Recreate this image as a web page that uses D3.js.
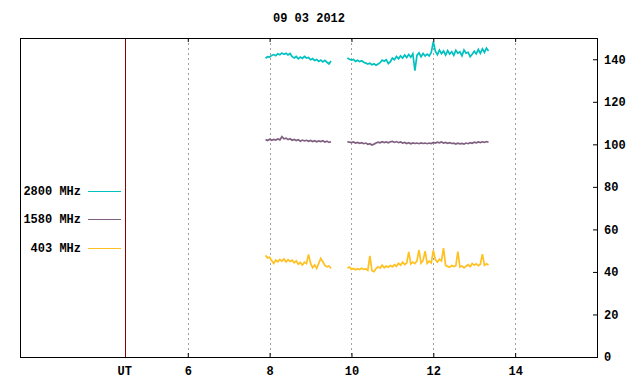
<!DOCTYPE html>
<html>
<head>
<meta charset="utf-8">
<script src="https://cdn.jsdelivr.net/npm/d3@7"></script>
<style>
  body { margin: 0; background: #fff; }
  svg text { font-family: "Liberation Mono", "DejaVu Sans Mono", monospace; font-size: 12px; font-weight: bold; fill: #000; }
</style>
</head>
<body>
<div id="chart"></div>
<script>
// hours (UT) of each sampled segment: start, end, step
const seg1Hours = d3.range(7.9, 9.5001, 0.05);
const seg2Hours = d3.range(9.9, 13.3501, 0.05);

const xTicks = [6, 8, 10, 12, 14];
const yTicks = [0, 20, 40, 60, 80, 100, 120, 140];
const utMark = 4.46;

const labels = ["2800 MHz", "1580 MHz", "403 MHz"];
const colors = ["#00c0c0", "#806080", "#ffc020"];

// 2800 MHz
const f2800a = [140.5, 141.2, 141.0, 141.8, 142.2, 141.7, 142.6, 142.1, 142.9, 142.3, 142.8, 142.0, 142.7, 141.2, 140.6, 141.3, 140.2,
  141.0, 140.4, 141.4, 140.6, 140.9, 139.8, 140.3, 139.4, 139.9, 139.0, 139.6, 138.8, 139.5, 138.6, 137.8, 139.2];
const f2800b = [140.6, 140.0, 139.6, 139.9, 139.0, 139.5, 138.9, 139.3, 138.6, 138.2,
  137.7, 138.1, 137.4, 137.9, 137.2, 137.8, 138.4, 139.6, 139.1, 139.8,
  138.0, 138.9, 140.6, 139.8, 141.3, 140.2, 141.6, 140.5, 142.0, 140.8,
  142.3, 141.0, 142.6, 134.6, 141.8, 143.0, 141.2, 142.7, 141.5, 142.4,
  141.6, 143.2, 148.3, 143.8, 142.2, 144.3, 142.6, 143.9, 142.0, 144.1,
  142.5, 143.6, 141.9, 144.2, 142.8, 143.5, 141.6, 144.4, 142.9, 143.3,
  141.2, 142.4, 143.8, 142.5, 144.6, 142.8, 144.9, 143.2, 145.2, 143.9];

// 1580 MHz
const f1580a = [102.2, 101.8, 102.4, 101.9, 102.3, 102.0, 102.5, 102.1, 103.6, 102.6, 102.9, 102.2, 102.6, 101.9, 102.3, 101.8, 102.2,
  101.5, 102.0, 101.6, 101.9, 101.4, 101.8, 101.3, 101.7, 101.2, 101.6, 101.3, 101.7, 101.1, 101.5, 100.9, 101.2];
const f1580b = [101.3, 101.0, 100.8, 101.1, 100.6, 100.9, 100.5, 100.8, 100.3, 100.6,
  100.0, 100.3, 99.7, 100.1, 100.6, 101.0, 100.7, 101.2, 100.8, 101.1,
  100.7, 101.2, 101.4, 100.9, 101.3, 100.8, 101.1, 100.6, 100.9, 100.4,
  100.8, 100.3, 100.7, 100.4, 100.6, 100.3, 100.7, 100.4, 100.6, 100.3,
  100.6, 100.4, 100.9, 100.6, 101.0, 100.7, 101.1, 100.6, 100.9, 100.5,
  100.8, 100.4, 100.6, 100.1, 100.5, 100.2, 100.4, 100.1, 100.6, 100.3,
  100.8, 100.5, 101.0, 100.7, 101.1, 100.8, 101.2, 100.9, 101.3, 101.0];

// 403 MHz
const f403a = [47.8, 46.6, 46.9, 45.4, 44.0, 45.6, 44.8, 45.9, 45.0, 46.1, 44.7, 45.8, 44.9, 45.5, 44.3, 45.2, 43.6,
  44.4, 43.2, 44.6, 43.9, 48.2, 44.1, 42.0, 43.3, 41.7, 44.0, 46.4, 44.8, 43.1, 42.4, 42.8, 41.7];
const f403b = [41.8, 42.3, 41.2, 41.6, 41.0, 41.5, 41.1, 41.7, 41.2, 41.4,
  40.8, 47.5, 40.6, 40.1, 41.6, 42.4, 41.8, 43.2, 42.0, 42.8,
  42.2, 43.0, 42.4, 43.4, 42.7, 44.1, 43.2, 44.6, 43.5, 44.2,
  49.4, 43.8, 44.6, 43.9, 45.2, 50.3, 44.1, 45.4, 49.8, 44.0,
  45.1, 44.3, 50.1, 45.8, 44.6, 46.0, 45.2, 51.2, 43.1, 42.6,
  42.2, 43.0, 42.5, 42.9, 49.6, 42.3, 42.8, 41.9, 42.7, 43.4,
  42.5, 44.0, 43.2, 43.8, 42.9, 43.6, 48.4, 43.1, 43.8, 43.3];

const series = [
  [f2800a, f2800b],
  [f1580a, f1580b],
  [f403a, f403b]
];

const width = 640, height = 384;
const plot = {left: 20, right: 597, top: 38, bottom: 357};

const svg = d3.select("#chart").append("svg")
    .attr("width", width)
    .attr("height", height);

const x = d3.scaleLinear().domain([1.9, 16]).range([plot.left, plot.right]);
const y = d3.scaleLinear().domain([0, 150]).range([plot.bottom, plot.top]);

// title
svg.append("text")
    .attr("x", 309)
    .attr("y", 22)
    .attr("text-anchor", "middle")
    .text("09 03 2012");

// dotted grid lines
svg.append("g").selectAll("line")
    .data(xTicks).enter()
    .append("line")
    .attr("x1", d => Math.round(x(d)) + 0.5)
    .attr("x2", d => Math.round(x(d)) + 0.5)
    .attr("y1", plot.top)
    .attr("y2", plot.bottom)
    .style("stroke", "#a0a0a0")
    .style("stroke-dasharray", "2,3");

// UT marker
svg.append("line")
    .attr("x1", Math.round(x(utMark)) + 0.5)
    .attr("x2", Math.round(x(utMark)) + 0.5)
    .attr("y1", plot.top)
    .attr("y2", plot.bottom)
    .style("stroke", "#8b0000");

// data lines
let line = d3.line()
    .x(d => x(d[0]))
    .y(d => y(d[1]));

series.forEach((segs, i) => {
    let pts1 = seg1Hours.map((h, j) => [h, segs[0][j]]);
    let pts2 = seg2Hours.map((h, j) => [h, segs[1][j]]);
    [pts1, pts2].forEach(pts => {
        svg.append("path")
            .attr("d", line(pts))
            .style("fill", "none")
            .style("stroke", colors[i])
            .style("stroke-width", 1.7);
    });
});

// bottom axis (ticks pointing inward)
let xAxis = svg.append("g")
    .attr("transform", "translate(0," + plot.bottom + ")")
    .call(d3.axisBottom(x).tickValues(xTicks).tickSize(-4).tickPadding(9).tickFormat(d3.format("d")));
xAxis.select(".domain").remove();

// top ticks
let xTop = svg.append("g")
    .attr("transform", "translate(0," + plot.top + ")")
    .call(d3.axisTop(x).tickValues(xTicks).tickSize(-4).tickFormat(""));
xTop.select(".domain").remove();

// UT label
svg.append("text")
    .attr("x", x(utMark))
    .attr("y", plot.bottom + 9)
    .attr("dy", "0.71em")
    .attr("text-anchor", "middle")
    .text("UT");

// right axis
let yAxis = svg.append("g")
    .attr("transform", "translate(" + plot.right + ",0)")
    .call(d3.axisRight(y).tickValues(yTicks).tickSize(-4).tickPadding(7).tickFormat(d3.format("d")));
yAxis.select(".domain").remove();

svg.selectAll(".tick text").attr("font-family", null).attr("font-size", null);
svg.selectAll(".tick line").style("stroke", "#000");

// border
svg.append("rect")
    .attr("x", plot.left + 0.5)
    .attr("y", plot.top + 0.5)
    .attr("width", plot.right - plot.left)
    .attr("height", plot.bottom - plot.top)
    .style("fill", "none")
    .style("stroke", "#000");

// legend
let legendY = [191, 219, 248];
let legend = svg.append("g");
labels.forEach((lab, i) => {
    legend.append("text")
        .attr("x", 81)
        .attr("y", legendY[i])
        .attr("dy", "0.35em")
        .attr("text-anchor", "end")
        .text(lab);
    legend.append("line")
        .attr("x1", 88)
        .attr("x2", 121)
        .attr("y1", legendY[i] + 0.5)
        .attr("y2", legendY[i] + 0.5)
        .style("stroke", colors[i]);
});
</script>
</body>
</html>
